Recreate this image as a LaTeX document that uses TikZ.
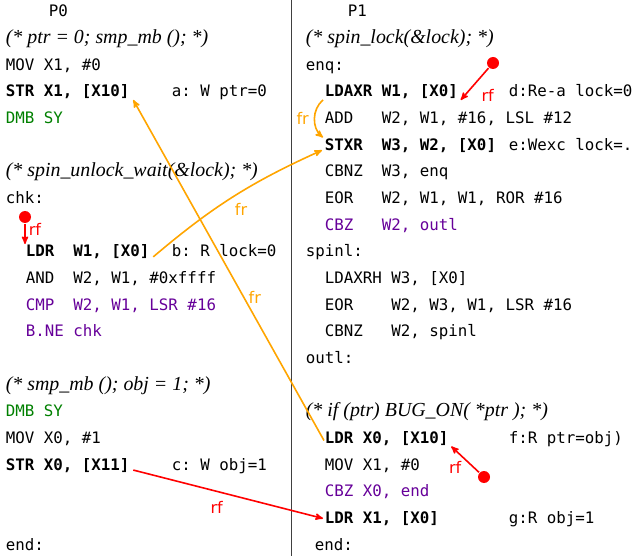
\documentclass[tikz,border=0pt]{standalone}
\usepackage{fontspec}
\setmainfont{Liberation Serif}
\setsansfont{DejaVu Sans}
\setmonofont{DejaVu Sans Mono}
\usepackage{tikz}
\usetikzlibrary{arrows}

\definecolor{frorange}{RGB}{255,165,0}
\definecolor{dmbgreen}{RGB}{0,128,0}
\definecolor{brpurple}{RGB}{102,0,153}

\newcommand\codefont{\ttfamily\fontsize{15.8}{18}\selectfont}

\begin{document}
\begin{tikzpicture}[
                        x=1pt,
                        y=-1pt,
                        ->,
                        >=stealth',
                        line width=1.6pt
                    ]
                    \tikzstyle{code}=[inner sep=0pt,anchor=base west,font=\codefont]
                    \tikzstyle{event}=[code,font=\codefont\bfseries]
                    \tikzstyle{cmt}=[inner sep=0pt,anchor=base west,font=\itshape\fontsize{19.9}{22}\selectfont]
                    \tikzstyle{rel}=[inner sep=1pt,font=\sffamily\fontsize{16}{18}\selectfont]
                    \tikzstyle{rf}=[draw=red,text=red]
                    \tikzstyle{fr}=[draw=frorange,text=frorange]
                    \tikzstyle{dot}=[circle,fill=red,inner sep=0pt,minimum size=12pt]

                    \useasboundingbox (0,0) rectangle (635,556);
                    \draw[-,line width=0.8pt,black!75] (291,0) -- (291,556);

                    % P0
                    \node[code]                (p0)   at (48,17)     {P0};
                    \node[cmt]                 (cma)  at (5,43.65)   {(* ptr = 0; smp\_mb (); *)};
                    \node[code]                (mova) at (5,70.3)    {MOV X1, \#0};
                    \node[event]               (stra) at (5,96.95)   {STR X1, [X10]};
                    \node[code]                (labA) at (171,96.95) {a: W ptr=0};
                    \node[code,text=dmbgreen]  (dmba) at (5,123.6)   {DMB SY};
                    \node[cmt]                 (cmb)  at (5,176.9)   {(* spin\_unlock\_wait(\&lock); *)};
                    \node[code]                (chk)  at (5,203.55)  {chk:};
                    \node[event]               (ldrb) at (25,256.85) {LDR\ \ W1, [X0]};
                    \node[code]                (labB) at (171,256.85) {b: R lock=0};
                    \node[code]                (andb) at (25,283.5)  {AND\ \ W2, W1, \#0xffff};
                    \node[code,text=brpurple]  (cmpb) at (25,310.15) {CMP\ \ W2, W1, LSR \#16};
                    \node[code,text=brpurple]  (bneb) at (25,336.8)  {B.NE chk};
                    \node[cmt]                 (cmc)  at (5,390.1)   {(* smp\_mb (); obj = 1; *)};
                    \node[code,text=dmbgreen]  (dmbc) at (5,416.75)  {DMB SY};
                    \node[code]                (movc) at (5,443.4)   {MOV X0, \#1};
                    \node[event]               (strc) at (5,470.05)  {STR X0, [X11]};
                    \node[code]                (labC) at (171,470.05) {c: W obj=1};
                    \node[code]                (enda) at (5,550)     {end:};

                    % P1
                    \node[code]                (p1)   at (347,17)     {P1};
                    \node[cmt]                 (cmd)  at (305,43.65)  {(* spin\_lock(\&lock); *)};
                    \node[code]                (enq)  at (305,70.3)   {enq:};
                    \node[event]               (ldxd) at (324,96.95)  {LDAXR W1, [X0]};
                    \node[code]                (labD) at (508,96.95)  {d:Re-a lock=0};
                    \node[code]                (addd) at (324,123.6)  {ADD\ \ \ W2, W1, \#16, LSL \#12};
                    \node[event]               (stxe) at (324,150.25) {STXR\ \ W3, W2, [X0]};
                    \node[code]                (labE) at (508,150.25) {e:Wexc lock=.};
                    \node[code]                (cbne) at (324,176.9)  {CBNZ\ \ W3, enq};
                    \node[code]                (eore) at (324,203.55) {EOR\ \ \ W2, W1, W1, ROR \#16};
                    \node[code,text=brpurple]  (cbze) at (324,230.2)  {CBZ\ \ \ W2, outl};
                    \node[code]                (spin) at (305,256.85) {spinl:};
                    \node[code]                (ldxh) at (324,283.5)  {LDAXRH W3, [X0]};
                    \node[code]                (eors) at (324,310.15) {EOR\ \ \ \ W2, W3, W1, LSR \#16};
                    \node[code]                (cbns) at (324,336.8)  {CBNZ\ \ \ W2, spinl};
                    \node[code]                (outl) at (305,363.45) {outl:};
                    \node[cmt]                 (cmf)  at (305,416.75) {(* if (ptr) BUG\_ON( *ptr ); *)};
                    \node[event]               (ldrf) at (324,443.4)  {LDR X0, [X10]};
                    \node[code]                (labF) at (508,443.4)  {f:R ptr=obj)};
                    \node[code]                (movf) at (324,470.05) {MOV X1, \#0};
                    \node[code,text=brpurple]  (cbzf) at (324,496.7)  {CBZ X0, end};
                    \node[event]               (ldrg) at (324,523.35) {LDR X1, [X0]};
                    \node[code]                (labG) at (508,523.35) {g:R obj=1};
                    \node[code]                (endb) at (314,550)    {end:};

                    % initial writes
                    \node[dot] (initB) at (25,217)  {};
                    \node[dot] (initD) at (493,63)  {};
                    \node[dot] (initF) at (484,477) {};

                    \path
                    (initB) edge [rf] node[rel,pos=0.3,right=2pt] {rf} (ldrb.north west)
                    (initD) edge [rf] node[rel,pos=1,anchor=west,xshift=19pt,yshift=5pt] {rf} ([xshift=2pt]ldxd.south east)
                    (initF) edge [rf] node[rel,midway,anchor=north east,xshift=-2pt] {rf} ([xshift=2pt]ldrf.south east)
                    ([xshift=3pt]strc.base east) edge [rf] node[rel,pos=0.44,below=8pt] {rf} ([xshift=-1pt]ldrg.west)
                    ([yshift=-2pt]ldrf.west) edge [fr] node[rel,pos=0.42,right=3pt] {fr} ([xshift=3pt]stra.south east)
                    ([xshift=3pt]ldrb.base east) edge [fr,bend left=8] node[rel,pos=0.55,below=10pt] {fr} ([xshift=-2pt]stxe.base west)
                    ([xshift=-1pt]ldxd.south west) edge [fr,bend right=50] node[rel,midway,left=4pt] {fr} ([xshift=-1pt]stxe.north west) ;

                \end{tikzpicture}
\end{document}
